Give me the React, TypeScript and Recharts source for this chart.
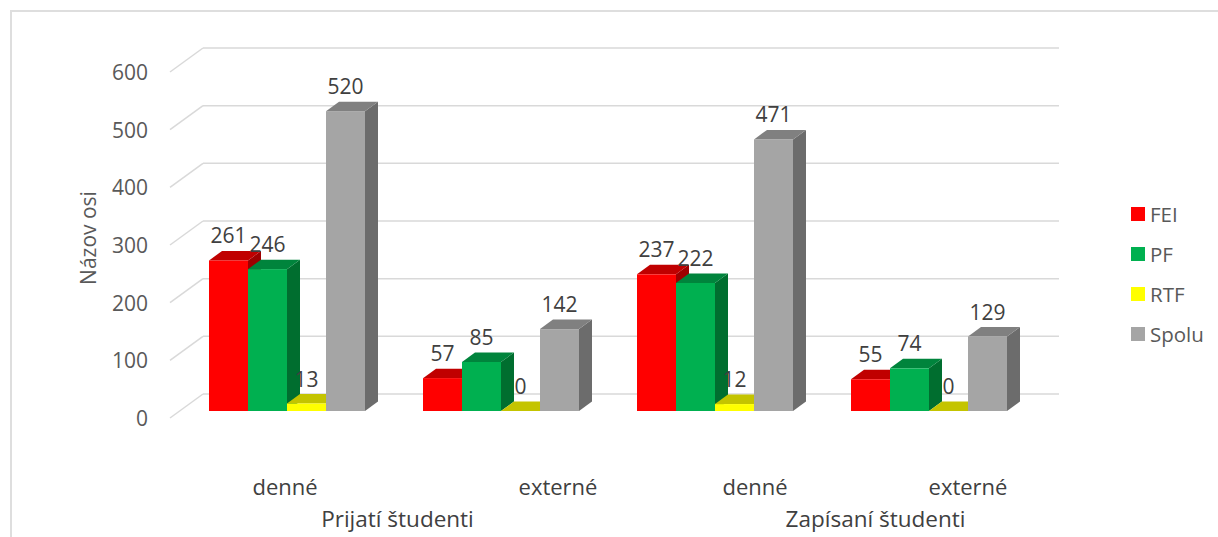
import React from "react";
import { BarChart, Bar, XAxis, YAxis, CartesianGrid, Legend, LabelList } from "recharts";

const categories = ["denné", "externé", "denné", "externé"];
const groups = ["Prijatí študenti", "Zapísaní študenti"];
const FEI = [261, 57, 237, 55];
const PF = [246, 85, 222, 74];
const RTF = [13, 0, 12, 0];
const SPOLU = [520, 142, 471, 129];
const yTicks = [0, 100, 200, 300, 400, 500, 600];

const data = categories.map((c, i) => ({
  key: `${groups[Math.floor(i / 2)]}|${c}|${i}`,
  FEI: FEI[i],
  PF: PF[i],
  RTF: RTF[i],
  Spolu: SPOLU[i],
}));

const W = 1218;
const H = 537;
const FONT = "'Open Sans', 'DejaVu Sans', sans-serif";
const PLOT_LEFT = 180;
const PLOT_RIGHT = 1036;
const PLOT_TOP = 65;
const PLOT_BOTTOM = 411;
const BAND = (PLOT_RIGHT - PLOT_LEFT) / categories.length;
const DX = 13;
const DY = 9.5;
const WALL_DX = 23;
const WALL_DY = 17;

const series = [
  { key: "FEI", name: "FEI", front: "#FF0000", top: "#C00000", side: "#9E0000" },
  { key: "PF", name: "PF", front: "#00B050", top: "#00843C", side: "#006E2F" },
  { key: "RTF", name: "RTF", front: "#FFFF00", top: "#C4C400", side: "#A6A600" },
  { key: "Spolu", name: "Spolu", front: "#A5A5A5", top: "#808080", side: "#6C6C6C" },
];

const makeShape = (s: any) => (props: any) => {
  const { x, y, width, height } = props;
  if (x == null || y == null) return null;
  const h = Math.max(0, height || 0);
  const w = width;
  return (
    <g>
      <polygon
        points={`${x + w},${y} ${x + w + DX},${y - DY} ${x + w + DX},${y + h - DY} ${x + w},${y + h}`}
        fill={s.side}
      />
      <polygon
        points={`${x},${y} ${x + DX},${y - DY} ${x + w + DX},${y - DY} ${x + w},${y}`}
        fill={s.top}
      />
      {h > 0 && <rect x={x} y={y} width={w} height={h} fill={s.front} />}
    </g>
  );
};

const renderValueLabel = (props: any) => {
  const { x, y, width, value } = props;
  return (
    <text
      x={x + width / 2}
      y={y - 17}
      textAnchor="middle"
      fontSize={21}
      fontFamily={FONT}
      fill="#404040"
    >
      {value}
    </text>
  );
};

const catOffsets = [-2, 57, 40, 39];
const groupOffsets = [3.5, 53.5];

const XTick = (props: any) => {
  const { payload, index } = props;
  const cx = payload.coordinate;
  const i = index ?? payload.index;
  return (
    <g>
      <text
        x={cx + catOffsets[i]}
        y={495}
        textAnchor="middle"
        fontSize={22}
        fontFamily={FONT}
        fill="#404040"
      >
        {categories[i]}
      </text>
      {i % 2 === 0 && (
        <text
          x={cx + BAND / 2 + groupOffsets[i / 2]}
          y={527}
          textAnchor="middle"
          fontSize={22.5}
          fontFamily={FONT}
          fill="#404040"
        >
          {groups[i / 2]}
        </text>
      )}
    </g>
  );
};

const YTick = (props: any) => {
  const { y, payload } = props;
  return (
    <g>
      <line
        x1={PLOT_LEFT - 10}
        y1={y + 7}
        x2={PLOT_LEFT + WALL_DX}
        y2={y - WALL_DY}
        stroke="#D9D9D9"
        strokeWidth={1.5}
      />
      <text
        x={148}
        y={y + 7}
        textAnchor="end"
        dominantBaseline="central"
        fontSize={21}
        fontFamily={FONT}
        fill="#595959"
      >
        {payload.value}
      </text>
    </g>
  );
};

const gridLine = (props: any) => {
  const { x1, x2, y1 } = props;
  return (
    <line
      key={`g-${y1}`}
      x1={x1 + WALL_DX}
      x2={x2 + WALL_DX}
      y1={y1 - WALL_DY}
      y2={y1 - WALL_DY}
      stroke="#D9D9D9"
      strokeWidth={1.5}
    />
  );
};

const renderLegend = () => (
  <div style={{ fontFamily: FONT }}>
    {series.map((s) => (
      <div
        key={s.key}
        style={{ display: "flex", alignItems: "center", height: 40 }}
      >
        <div style={{ width: 14, height: 14, background: s.front, marginRight: 5 }} />
        <span style={{ fontSize: 20.5, color: "#595959" }}>{s.name}</span>
      </div>
    ))}
  </div>
);

const yTitle = () => (
  <text
    x={88}
    y={238}
    transform="rotate(-90, 88, 238)"
    textAnchor="middle"
    dominantBaseline="central"
    fontSize={21}
    fontFamily={FONT}
    fill="#595959"
  >
    Názov osi
  </text>
);

export default function App() {
  return (
    <div
      style={{
        position: "fixed",
        left: 0,
        top: 0,
        width: W,
        height: H,
        overflow: "hidden",
        background: "#fff",
      }}
    >
      <div
        style={{
          position: "absolute",
          left: 10,
          top: 10,
          width: W,
          height: H,
          borderLeft: "2px solid #DEDEDE",
          borderTop: "2px solid #DEDEDE",
        }}
      />
      <BarChart
        width={W}
        height={H}
        data={data}
        margin={{ top: PLOT_TOP, right: W - PLOT_RIGHT, left: 0, bottom: 0 }}
        barSize={39}
        barGap={0}
      >
        <CartesianGrid horizontal={gridLine} vertical={false} />
        <XAxis
          dataKey="key"
          height={H - PLOT_BOTTOM}
          tickLine={false}
          axisLine={false}
          interval={0}
          tick={<XTick />}
        />
        <YAxis
          width={PLOT_LEFT}
          domain={[0, 600]}
          ticks={yTicks}
          tickLine={false}
          axisLine={false}
          tick={<YTick />}
          label={{ content: yTitle }}
        />
        <Legend
          layout="horizontal"
          verticalAlign="middle"
          align="center"
          content={renderLegend}
          wrapperStyle={{ left: 1131, top: 194, width: 85 }}
        />
        {series.map((s) => (
          <Bar
            key={s.key}
            dataKey={s.key}
            name={s.name}
            fill={s.front}
            shape={makeShape(s)}
            isAnimationActive={false}
          >
            <LabelList dataKey={s.key} content={renderValueLabel} />
          </Bar>
        ))}
      </BarChart>
    </div>
  );
}
